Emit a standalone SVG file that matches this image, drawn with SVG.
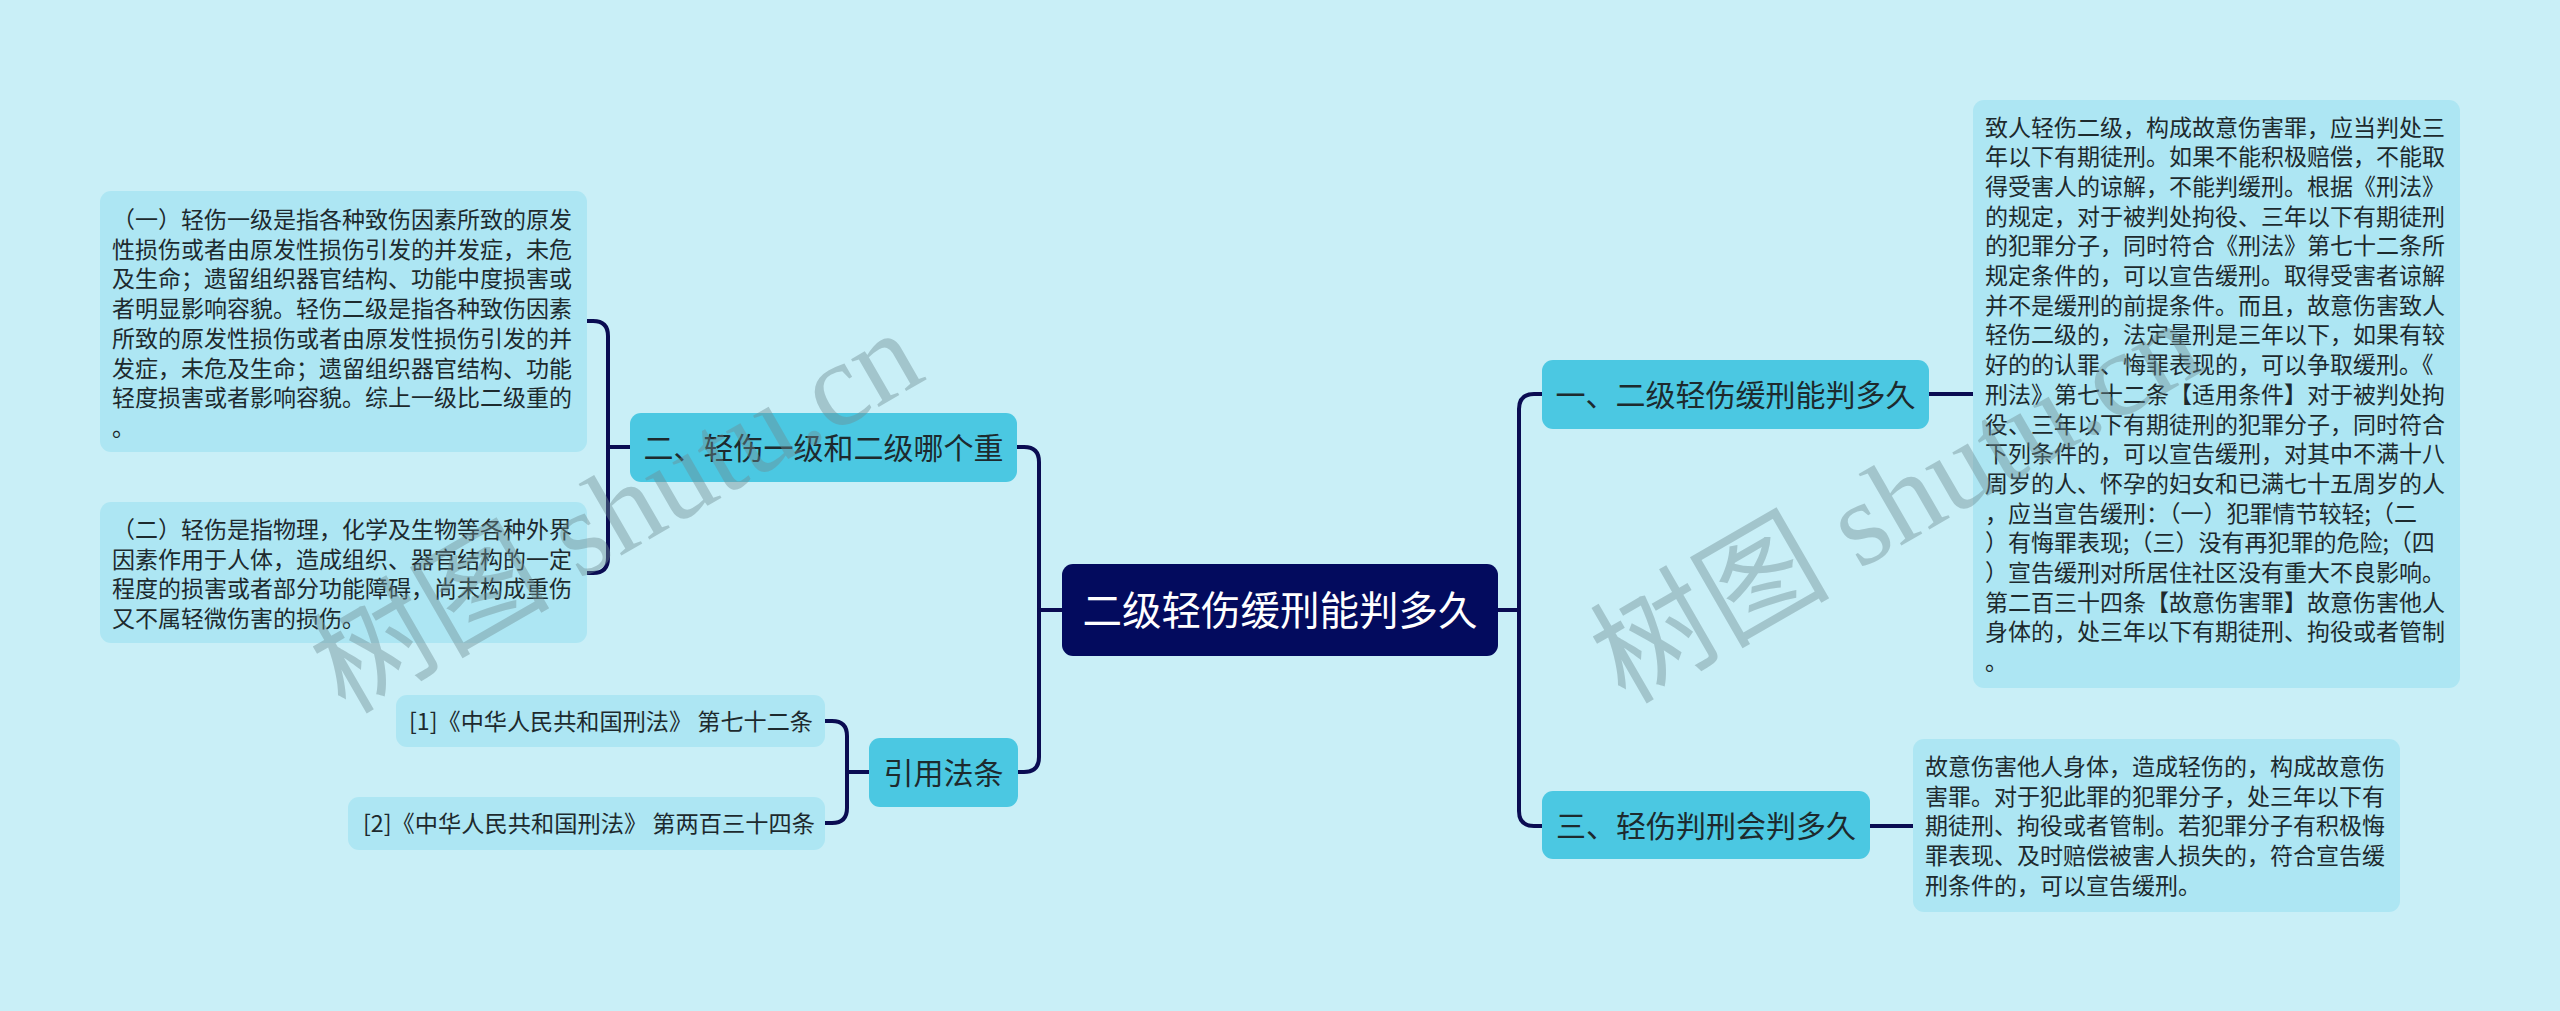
<svg xmlns="http://www.w3.org/2000/svg" width="2560" height="1011" viewBox="0 0 2560 1011">
<style>
.bg{fill:#c9eff7}
.leaf{fill:#ade6f3}
.sub{fill:#4bc8e2}
.root{fill:#030b5e}
.t{font-family:"Noto Sans CJK SC","Noto Sans",sans-serif;fill:#1d2a2e}
.lt{font-size:23px}
.st{font-size:30px;text-anchor:middle}
.rt{font-size:39.5px;text-anchor:middle;fill:#ffffff}
.ln{fill:none;stroke:#0a0c52;stroke-width:4;stroke-linecap:round;stroke-linejoin:round}
.wm{font-family:"Liberation Serif","Noto Sans CJK SC",serif;font-size:120px;fill:#6e8c92;opacity:0.42}
</style>
<rect class="bg" x="0" y="0" width="2560" height="1011"/>

<g id="connectors">
<path class="ln" d="M1017,447 H1024 Q1039,447 1039,462 V757 Q1039,772 1024,772 H1018"/>
<path class="ln" d="M1039,610 H1062"/>
<path class="ln" d="M587,321 H593 Q608,321 608,336 V558 Q608,573 593,573 H587"/>
<path class="ln" d="M608,447 H630"/>
<path class="ln" d="M825,721 H832 Q847,721 847,736 V808 Q847,823 832,823 H825"/>
<path class="ln" d="M847,772 H869"/>
<path class="ln" d="M1542,394 H1534 Q1519,394 1519,409 V811 Q1519,826 1534,826 H1542"/>
<path class="ln" d="M1498,610 H1519"/>
<path class="ln" d="M1929,394 H1973"/>
<path class="ln" d="M1870,826 H1913"/>
</g>

<g id="root">
<rect class="root" x="1062" y="564" width="436" height="92" rx="11"/>
<text class="t rt" x="1280" y="625">二级轻伤缓刑能判多久</text>
</g>

<g id="n-2">
<rect class="sub" x="630" y="413" width="387" height="69" rx="11"/>
<text class="t st" x="823.5" y="459">二、轻伤一级和二级哪个重</text>
</g>

<g id="n-law">
<rect class="sub" x="869" y="738" width="149" height="69" rx="11"/>
<text class="t st" x="943.5" y="784">引用法条</text>
</g>

<g id="n-1">
<rect class="sub" x="1542" y="360" width="387" height="69" rx="11"/>
<text class="t st" x="1735.5" y="406">一、二级轻伤缓刑能判多久</text>
</g>

<g id="n-3">
<rect class="sub" x="1542" y="791" width="328" height="68" rx="11"/>
<text class="t st" x="1706" y="836.5">三、轻伤判刑会判多久</text>
</g>

<g id="leaf-2a">
<rect class="leaf" x="100" y="191" width="487" height="261" rx="11"/>
<text class="t lt">
<tspan x="112" y="228">（一）轻伤一级是指各种致伤因素所致的原发</tspan>
<tspan x="112" y="257.7">性损伤或者由原发性损伤引发的并发症，未危</tspan>
<tspan x="112" y="287.4">及生命；遗留组织器官结构、功能中度损害或</tspan>
<tspan x="112" y="317.1">者明显影响容貌。轻伤二级是指各种致伤因素</tspan>
<tspan x="112" y="346.8">所致的原发性损伤或者由原发性损伤引发的并</tspan>
<tspan x="112" y="376.5">发症，未危及生命；遗留组织器官结构、功能</tspan>
<tspan x="112" y="406.2">轻度损害或者影响容貌。综上一级比二级重的</tspan>
<tspan x="112" y="435.9">。</tspan>
</text>
</g>

<g id="leaf-2b">
<rect class="leaf" x="100" y="502" width="487" height="141" rx="11"/>
<text class="t lt">
<tspan x="112" y="538">（二）轻伤是指物理，化学及生物等各种外界</tspan>
<tspan x="112" y="567.7">因素作用于人体，造成组织、器官结构的一定</tspan>
<tspan x="112" y="597.4">程度的损害或者部分功能障碍，尚未构成重伤</tspan>
<tspan x="112" y="627.1">又不属轻微伤害的损伤。</tspan>
</text>
</g>

<g id="leaf-law1">
<rect class="leaf" x="396" y="695" width="429" height="52" rx="11"/>
<text class="t lt" x="409" y="730" textLength="404" lengthAdjust="spacingAndGlyphs">[1]《中华人民共和国刑法》 第七十二条</text>
</g>

<g id="leaf-law2">
<rect class="leaf" x="348" y="797" width="477" height="53" rx="11"/>
<text class="t lt" x="363" y="832" textLength="452" lengthAdjust="spacingAndGlyphs">[2]《中华人民共和国刑法》 第两百三十四条</text>
</g>

<g id="leaf-1">
<rect class="leaf" x="1973" y="100" width="487" height="588" rx="11"/>
<text class="t lt">
<tspan x="1985" y="135.5">致人轻伤二级，构成故意伤害罪，应当判处三</tspan>
<tspan x="1985" y="165.2">年以下有期徒刑。如果不能积极赔偿，不能取</tspan>
<tspan x="1985" y="194.9">得受害人的谅解，不能判缓刑。根据《刑法》</tspan>
<tspan x="1985" y="224.6">的规定，对于被判处拘役、三年以下有期徒刑</tspan>
<tspan x="1985" y="254.3">的犯罪分子，同时符合《刑法》第七十二条所</tspan>
<tspan x="1985" y="284">规定条件的，可以宣告缓刑。取得受害者谅解</tspan>
<tspan x="1985" y="313.7">并不是缓刑的前提条件。而且，故意伤害致人</tspan>
<tspan x="1985" y="343.4">轻伤二级的，法定量刑是三年以下，如果有较</tspan>
<tspan x="1985" y="373.1">好的的认罪、悔罪表现的，可以争取缓刑。《</tspan>
<tspan x="1985" y="402.8">刑法》第七十二条【适用条件】对于被判处拘</tspan>
<tspan x="1985" y="432.5">役、三年以下有期徒刑的犯罪分子，同时符合</tspan>
<tspan x="1985" y="462.2">下列条件的，可以宣告缓刑，对其中不满十八</tspan>
<tspan x="1985" y="491.9">周岁的人、怀孕的妇女和已满七十五周岁的人</tspan>
<tspan x="1985" y="521.6">，应当宣告缓刑：（一）犯罪情节较轻;（二</tspan>
<tspan x="1985" y="551.3">）有悔罪表现;（三）没有再犯罪的危险;（四</tspan>
<tspan x="1985" y="581">）宣告缓刑对所居住社区没有重大不良影响。</tspan>
<tspan x="1985" y="610.7">第二百三十四条【故意伤害罪】故意伤害他人</tspan>
<tspan x="1985" y="640.4">身体的，处三年以下有期徒刑、拘役或者管制</tspan>
<tspan x="1985" y="670.1">。</tspan>
</text>
</g>

<g id="leaf-3">
<rect class="leaf" x="1913" y="739" width="487" height="173" rx="11"/>
<text class="t lt">
<tspan x="1925" y="775">故意伤害他人身体，造成轻伤的，构成故意伤</tspan>
<tspan x="1925" y="804.7">害罪。对于犯此罪的犯罪分子，处三年以下有</tspan>
<tspan x="1925" y="834.4">期徒刑、拘役或者管制。若犯罪分子有积极悔</tspan>
<tspan x="1925" y="864.1">罪表现、及时赔偿被害人损失的，符合宣告缓</tspan>
<tspan x="1925" y="893.8">刑条件的，可以宣告缓刑。</tspan>
</text>
</g>

<g id="watermark">
<text class="wm" transform="translate(345,715) rotate(-30)">树图 shutu.cn</text>
<text class="wm" transform="translate(1625,705) rotate(-30)">树图 shutu.cn</text>
</g>
</svg>
